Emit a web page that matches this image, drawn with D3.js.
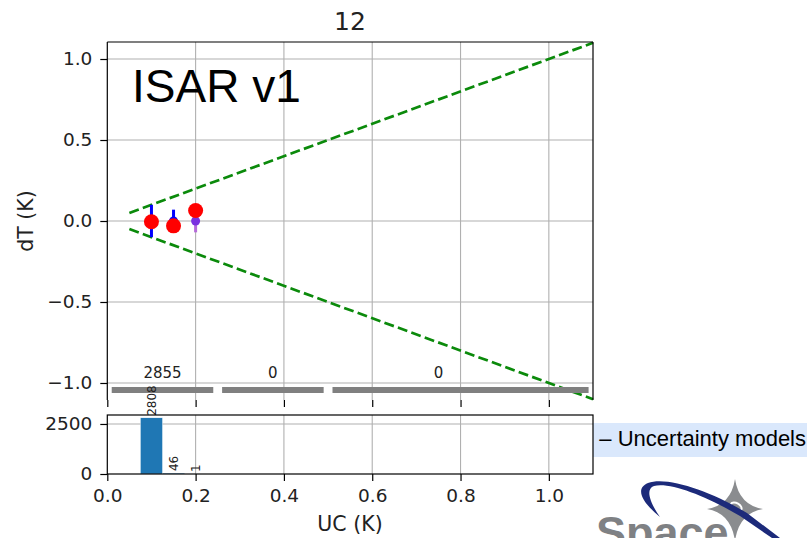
<!DOCTYPE html>
<html>
<head>
<meta charset="utf-8">
<script src="https://cdn.jsdelivr.net/npm/d3@7"></script>
<style>
  body { margin: 0; background: #fff; }
  svg { display: block; }
</style>
</head>
<body>
<svg id="chart" width="807" height="538"></svg>
<script>
// dades del gràfic
const ucBin = [0.1, 0.15, 0.2];          // centre de cada bin UC (K)
const dtMedian = [-0.005, -0.03, 0.065]; // punts vermells
const dtMean = [0, 0, 0];                // centre barres d'error
const dtStd = [0.1, 0.07, 0.07];
const histLeft = [0.075, 0.125, 0.175];
const histWidth = 0.05;
const histCount = [2808, 46, 1];
const coarseLo = [0, 0.25, 0.5];
const coarseHi = [0.25, 0.5, 1.1];
const coarseCount = [2855, 0, 0];
const xTicks = [0, 0.2, 0.4, 0.6, 0.8, 1.0];
const yTicks = [-1, -0.5, 0, 0.5, 1];
const histYTicks = [0, 2500];
const envelopeX = [0.05, 1.1];

const svg = d3.select("#chart");
const font = "'DejaVu Sans', sans-serif";

// Escales
const x = d3.scaleLinear().domain([0, 1.1]).range([107.3, 593]);
const y = d3.scaleLinear().domain([-1.105, 1.105]).range([400, 42]);
const yh = d3.scaleLinear().domain([0, 2948.4]).range([474, 415]);

// Caixa de text de la diapositiva (darrere del gràfic)
const clip = svg.append("defs").append("clipPath").attr("id", "bandClip");
clip.append("rect").attr("x", 594).attr("y", 400).attr("width", 220).attr("height", 80);
svg.append("rect")
  .attr("x", 593).attr("y", 423).attr("width", 214).attr("height", 34)
  .attr("fill", "#dae8fc");
svg.append("text")
  .attr("clip-path", "url(#bandClip)")
  .attr("x", 806).attr("y", 446)
  .attr("text-anchor", "end")
  .style("font-family", "'Liberation Sans', Arial, sans-serif")
  .style("font-size", "22px")
  .attr("fill", "#000")
  .text("Matchup – Uncertainty models");

// ---- Eixos principals ----
const main = svg.append("g");

main.append("g").selectAll("line").data(xTicks.slice(1)).enter().append("line")
  .attr("x1", d => x(d)).attr("x2", d => x(d))
  .attr("y1", y.range()[1]).attr("y2", y.range()[0])
  .attr("stroke", "#b0b0b0").attr("stroke-width", 1.1);
main.append("g").selectAll("line").data(yTicks).enter().append("line")
  .attr("x1", x.range()[0]).attr("x2", x.range()[1])
  .attr("y1", d => y(d)).attr("y2", d => y(d))
  .attr("stroke", "#b0b0b0").attr("stroke-width", 1.1);

// línies d'envolupant
[1, -1].forEach(s => {
  main.append("line")
    .attr("x1", x(envelopeX[0])).attr("y1", y(s * envelopeX[0]))
    .attr("x2", x(envelopeX[1])).attr("y2", y(s * envelopeX[1]))
    .attr("stroke", "#0b8a0b").attr("stroke-width", 2.7)
    .attr("stroke-dasharray", "10,4.3");
});

// barres grises de recompte
main.selectAll(".coarse").data(coarseLo).enter().append("line")
  .attr("x1", (d, i) => x(d + 0.01))
  .attr("x2", (d, i) => x(coarseHi[i] - 0.01))
  .attr("y1", y(-1.043)).attr("y2", y(-1.043))
  .attr("stroke", "#808080").attr("stroke-width", 6);
main.selectAll(".coarseLbl").data(coarseLo).enter().append("text")
  .attr("x", (d, i) => x((d + Math.min(coarseHi[i], 1.0)) / 2))
  .attr("y", y(-0.969))
  .attr("text-anchor", "middle")
  .style("font-family", font).style("font-size", "15px")
  .attr("fill", "#222")
  .text((d, i) => coarseCount[i]);

// barres d'error i punts
const pts = ucBin.map((u, i) => ({ u, med: dtMedian[i], mean: dtMean[i], sd: dtStd[i], n: histCount[i] }));
const errColor = d => d.n < 10 ? "#b56ad9" : "#0000ff";
const markColor = d => d.n < 10 ? "#7a30e0" : "#0000ff";

main.selectAll(".err").data(pts).enter().append("line")
  .attr("x1", d => x(d.u)).attr("x2", d => x(d.u))
  .attr("y1", d => y(d.mean - d.sd)).attr("y2", d => y(d.mean + d.sd))
  .attr("stroke", errColor).attr("stroke-width", 3);
main.selectAll(".mean").data(pts).enter().append("circle")
  .attr("cx", d => x(d.u)).attr("cy", d => y(d.mean)).attr("r", 4.5)
  .attr("fill", markColor);
main.selectAll(".med").data(pts).enter().append("circle")
  .attr("cx", d => x(d.u)).attr("cy", d => y(d.med)).attr("r", 7.5)
  .attr("fill", "#ff0000");

// espines
main.append("line").attr("x1", 107.3).attr("x2", 593).attr("y1", 42).attr("y2", 42)
  .attr("stroke", "#000").attr("stroke-width", 1.2);
main.append("line").attr("x1", 107.3).attr("x2", 107.3).attr("y1", 42).attr("y2", 400)
  .attr("stroke", "#000").attr("stroke-width", 1.2);
main.append("line").attr("x1", 593).attr("x2", 593).attr("y1", 42).attr("y2", 400)
  .attr("stroke", "#000").attr("stroke-width", 1.2);

// eix Y
const gy = main.append("g")
  .attr("transform", "translate(107.3,0)")
  .call(d3.axisLeft(y).tickValues(yTicks).tickFormat(d3.format(".1f")).tickSize(7).tickPadding(8));
gy.select(".domain").remove();
gy.selectAll("line").attr("stroke-width", 1.2);
gy.selectAll("text").style("font-family", font).style("font-size", "18.5px").attr("fill", "#222");

// ticks inferiors sense etiqueta
const gxm = main.append("g")
  .attr("transform", "translate(0,400)")
  .call(d3.axisBottom(x).tickValues(xTicks).tickFormat("").tickSize(7));
gxm.select(".domain").remove();
gxm.selectAll("line").attr("stroke-width", 1.2);

// text ISAR
main.append("text")
  .attr("x", 132).attr("y", 102)
  .style("font-family", "'Liberation Sans', Arial, sans-serif")
  .style("font-size", "46px")
  .attr("fill", "#000")
  .text("ISAR v1");

// títol
svg.append("text")
  .attr("x", 350).attr("y", 30).attr("text-anchor", "middle")
  .style("font-family", font).style("font-size", "25px").attr("fill", "#222")
  .text("12");

// etiqueta Y
svg.append("text")
  .attr("transform", "translate(33,221) rotate(-90)")
  .attr("text-anchor", "middle")
  .style("font-family", font).style("font-size", "20.5px").attr("fill", "#222")
  .text("dT (K)");

// ---- Histograma ----
const hist = svg.append("g");
hist.append("rect").attr("x", 107.3).attr("y", 415).attr("width", 593 - 107.3).attr("height", 59)
  .attr("fill", "#fff");
hist.append("g").selectAll("line").data(xTicks.slice(1)).enter().append("line")
  .attr("x1", d => x(d)).attr("x2", d => x(d))
  .attr("y1", 415).attr("y2", 474)
  .attr("stroke", "#b0b0b0").attr("stroke-width", 1.1);
hist.append("g").selectAll("line").data(histYTicks.slice(1)).enter().append("line")
  .attr("x1", x.range()[0]).attr("x2", x.range()[1])
  .attr("y1", d => yh(d)).attr("y2", d => yh(d))
  .attr("stroke", "#b0b0b0").attr("stroke-width", 1.1);

hist.selectAll(".bar").data(histLeft).enter().append("rect")
  .attr("x", d => x(d))
  .attr("width", x(histWidth) - x(0))
  .attr("y", (d, i) => yh(histCount[i]))
  .attr("height", (d, i) => yh(0) - yh(histCount[i]))
  .attr("fill", "#1f77b4").attr("stroke", "#fff").attr("stroke-width", 0.4);

hist.selectAll(".barLbl").data(histLeft).enter().append("text")
  .attr("transform", (d, i) => `translate(${x(d + histWidth / 2)},${yh(histCount[i]) - 2}) rotate(-90)`)
  .attr("dy", "0.35em")
  .style("font-family", font).style("font-size", "12px").attr("fill", "#222")
  .text((d, i) => histCount[i]);

hist.append("rect").attr("x", 107.3).attr("y", 415).attr("width", 593 - 107.3).attr("height", 59)
  .attr("fill", "none").attr("stroke", "#000").attr("stroke-width", 1.2);

const ghy = hist.append("g")
  .attr("transform", "translate(107.3,0)")
  .call(d3.axisLeft(yh).tickValues(histYTicks).tickFormat(d3.format("d")).tickSize(7).tickPadding(8));
ghy.select(".domain").remove();
ghy.selectAll("line").attr("stroke-width", 1.2);
ghy.selectAll("text").style("font-family", font).style("font-size", "18.5px").attr("fill", "#222");

const ghx = hist.append("g")
  .attr("transform", "translate(0,474)")
  .call(d3.axisBottom(x).tickValues(xTicks).tickFormat(d3.format(".1f")).tickSize(7).tickPadding(8));
ghx.select(".domain").remove();
ghx.selectAll("line").attr("stroke-width", 1.2);
ghx.selectAll("text").style("font-family", font).style("font-size", "18.5px").attr("fill", "#222");

svg.append("text")
  .attr("x", 350).attr("y", 531).attr("text-anchor", "middle")
  .style("font-family", font).style("font-size", "20.5px").attr("fill", "#222")
  .text("UC (K)");

// ---- Logotip ----
const logo = svg.append("g");
logo.append("text")
  .attr("x", 596).attr("y", 548)
  .style("font-family", "'Liberation Sans', Arial, sans-serif")
  .style("font-size", "45px").style("font-weight", "bold")
  .attr("fill", "#7f8184")
  .text("Space");
logo.append("path")
  .attr("d", "M735 479 Q739 505 763 509 Q739 513 735 541 Q731 513 707 509 Q731 505 735 479 Z")
  .attr("fill", "#8a8c8f");
logo.append("ellipse")
  .attr("cx", 736).attr("cy", 507).attr("rx", 6).attr("ry", 4)
  .attr("transform", "rotate(30,736,507)")
  .attr("fill", "none").attr("stroke", "#fff").attr("stroke-width", 2);
logo.append("path")
  .attr("d", "M660 517 C643 503 634 489 648 483 C668 476 712 492 747 513 L780 538 L772 538 L740 516 C706 496 670 482 654 486 C645 489 650 503 660 517 Z")
  .attr("fill", "#1c2a7a");
</script>
</body>
</html>
